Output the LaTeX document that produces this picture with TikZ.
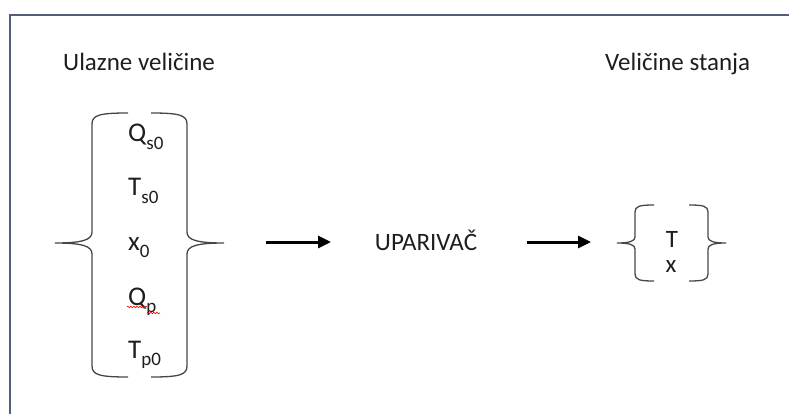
\documentclass[tikz,border=0pt]{standalone}
\usepackage{fontspec}
\setmainfont{Carlito}
\usetikzlibrary{arrows.meta,decorations.pathmorphing}
\definecolor{framec}{RGB}{80,96,120}
\definecolor{txt}{RGB}{30,30,30}
\definecolor{bracec}{RGB}{70,70,70}
\newcommand{\sbs}[1]{\raisebox{-0.26em}{\fontsize{19}{19}\selectfont #1}}
\begin{document}
\begin{tikzpicture}[x=1pt,y=-1pt,
  lbl/.style={text=txt, inner sep=0pt, anchor=base west, font=\fontsize{27}{32}\selectfont},
  hd/.style={text=txt, inner sep=0pt, anchor=base west, font=\fontsize{25}{30}\selectfont},
  brc/.style={draw=bracec, line width=1.3pt},
  arr/.style={line width=3pt, -{Triangle[length=13pt,width=12pt]}},
  wavy/.style={red, line width=0.6pt, decorate, decoration={snake, segment length=3pt, amplitude=0.8pt}}]
\useasboundingbox (0,0) rectangle (789,414);
\draw[framec, line width=2pt] (10,15) rectangle (820,440);
% headings
\node[hd] (h1) at (63,71) {Ulazne veličine};
\node[hd] (h2) at (605,71) {Veličine stanja};
% input variables
\node[lbl] (q1) at (128,142) {Q\sbs{s0}};
\node[lbl] (t1) at (128,196) {T\sbs{s0}};
\node[lbl] (x1) at (128,250) {x\sbs{0}};
\node[lbl] (q2) at (128,305) {Q\sbs{p}};
\node[lbl] (t2) at (128,358) {T\sbs{p0}};
\draw[wavy] (127,307) -- (147,307);
\draw[wavy] (147,313) -- (160,313);
% big brace
\draw[brc] (128,113) .. controls (100,113) and (92,115) .. (92,124) -- (92,232)
  .. controls (92,240) and (82,243) .. (55,243)
  .. controls (82,243) and (92,246) .. (92,254) -- (92,366)
  .. controls (92,375) and (100,377) .. (128,377);
\draw[brc] (151,113) .. controls (179,113) and (187,115) .. (187,124) -- (187,232)
  .. controls (187,240) and (197,243) .. (224,243)
  .. controls (197,243) and (187,246) .. (187,254) -- (187,366)
  .. controls (187,375) and (179,377) .. (151,377);
% center
\node[lbl, anchor=base, font=\fontsize{25}{30}\selectfont] (u) at (426,250) {UPARIVAČ};
\coordinate (a1s) at (266,242);
\coordinate (a1e) at (331,242);
\coordinate (a2s) at (527,242);
\coordinate (a2e) at (591,242);
\draw[arr] (a1s) -- (a1e);
\draw[arr] (a2s) -- (a2e);
% output
\node[lbl, anchor=base, font=\fontsize{25}{30}\selectfont] (T) at (672,247) {T};
\node[lbl, anchor=base, font=\fontsize{25}{30}\selectfont] (X) at (671,272) {x};
\draw[brc] (654,205) .. controls (640,205) and (635,206) .. (635,212) -- (635,237)
  .. controls (635,241) and (630,243) .. (617,243)
  .. controls (630,243) and (635,245) .. (635,249) -- (635,274)
  .. controls (635,280) and (640,281) .. (654,281);
\draw[brc] (689,205) .. controls (703,205) and (708,206) .. (708,212) -- (708,237)
  .. controls (708,241) and (713,243) .. (726,243)
  .. controls (713,243) and (708,245) .. (708,249) -- (708,274)
  .. controls (708,280) and (703,281) .. (689,281);
\end{tikzpicture}
\end{document}
